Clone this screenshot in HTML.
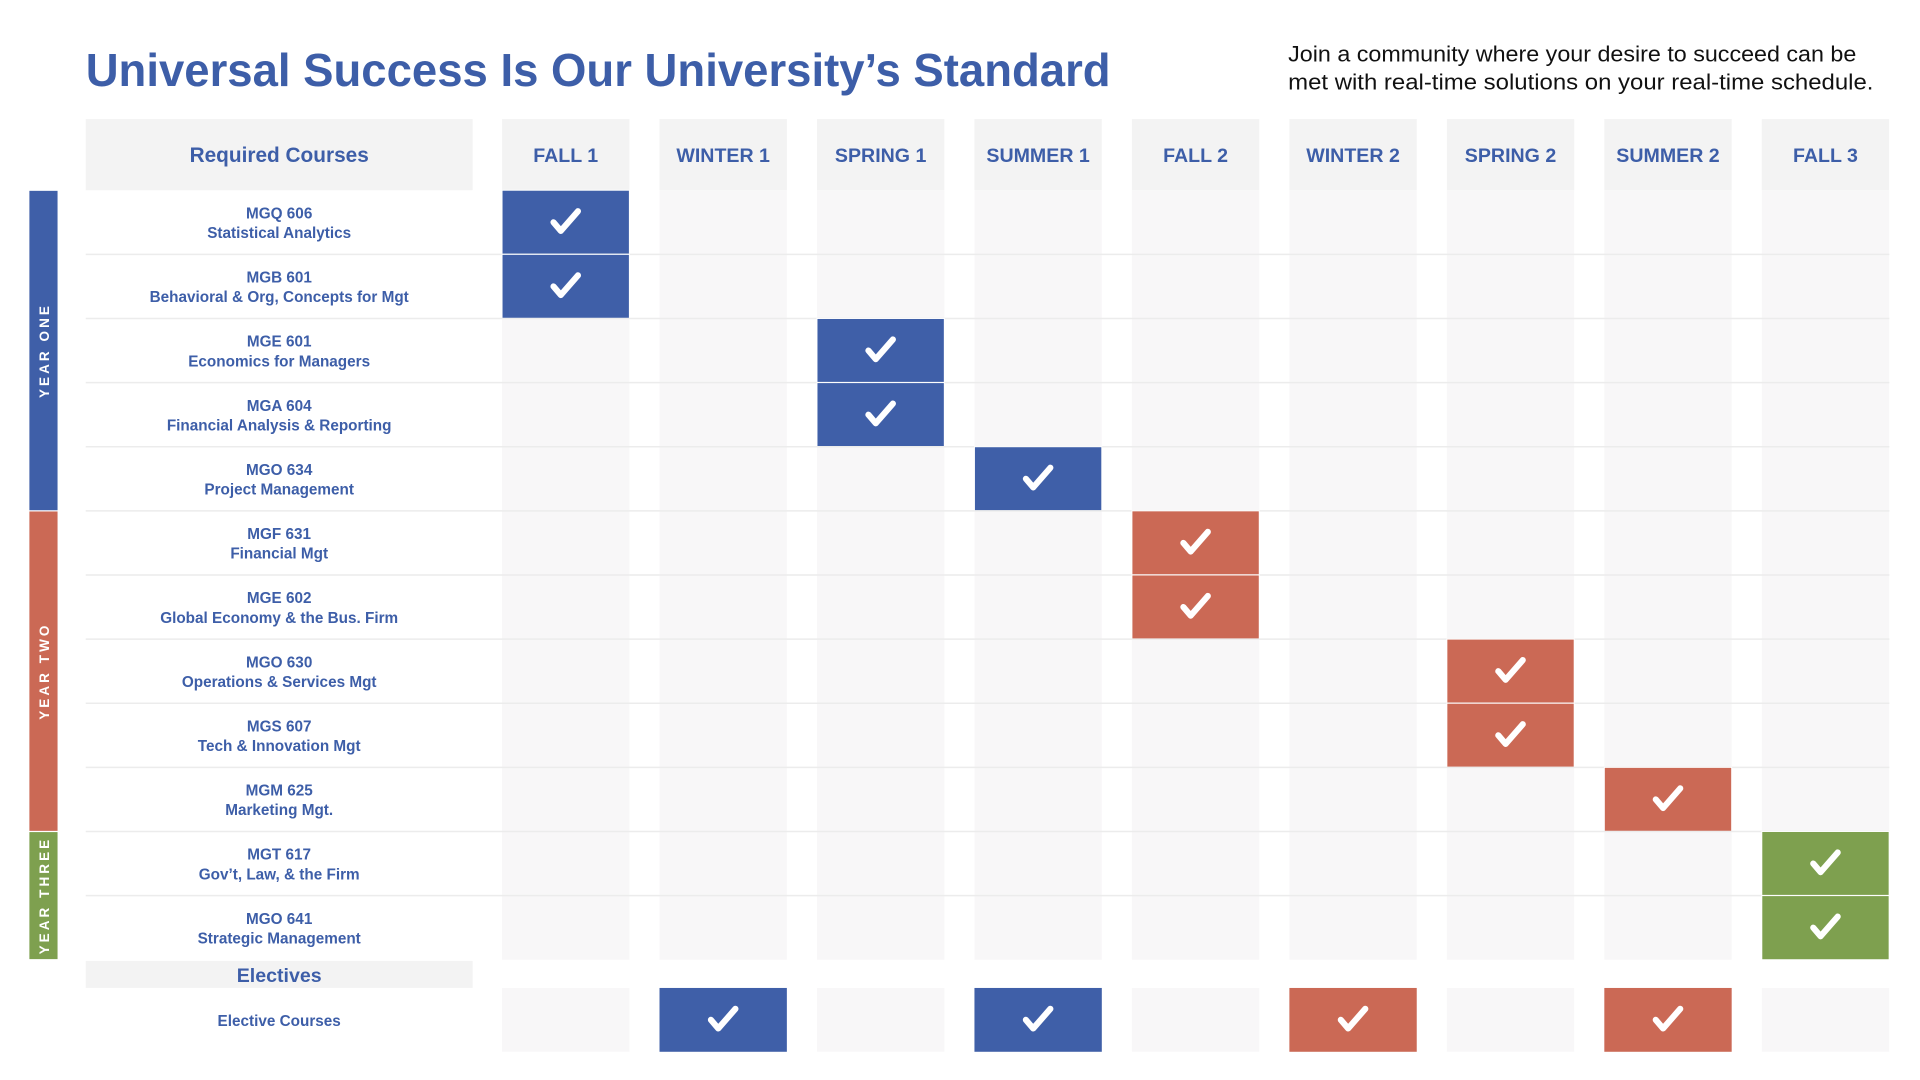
<!DOCTYPE html>
<html><head><meta charset="utf-8"><style>
html,body{margin:0;padding:0;background:#fff;width:1920px;height:1080px;overflow:hidden}
svg{display:block}
text{font-family:"Liberation Sans",sans-serif}
</style></head><body>
<svg id="chart" width="1920" height="1080" viewBox="0 0 1568 880" preserveAspectRatio="none" xmlns="http://www.w3.org/2000/svg">
<text x="70" y="70" font-size="38" font-weight="bold" fill="#3d5ea8" textLength="837" lengthAdjust="spacingAndGlyphs">Universal Success Is Our University’s Standard</text>
<text x="1052" y="50" font-size="18" fill="#111" textLength="464" lengthAdjust="spacingAndGlyphs">Join a community where your desire to succeed can be</text>
<text x="1052" y="73" font-size="18" fill="#111" textLength="478" lengthAdjust="spacingAndGlyphs">met with real-time solutions on your real-time schedule.</text>
<rect x="70" y="97" width="316" height="58" fill="#f3f3f3"/>
<text x="228" y="132" font-size="17" font-weight="bold" fill="#3d5ea8" text-anchor="middle">Required Courses</text>
<g id="grid"></g>
</svg>
<script>
const terms = ["FALL 1","WINTER 1","SPRING 1","SUMMER 1","FALL 2","WINTER 2","SPRING 2","SUMMER 2","FALL 3"];
const courseCodes = ["MGQ 606","MGB 601","MGE 601","MGA 604","MGO 634","MGF 631","MGE 602","MGO 630","MGS 607","MGM 625","MGT 617","MGO 641"];
const courseNames = ["Statistical Analytics","Behavioral & Org, Concepts for Mgt","Economics for Managers","Financial Analysis & Reporting","Project Management","Financial Mgt","Global Economy & the Bus. Firm","Operations & Services Mgt","Tech & Innovation Mgt","Marketing Mgt.","Gov’t, Law, & the Firm","Strategic Management"];
const courseTerm = [0,0,2,2,3,4,4,6,6,7,8,8];
const courseYear = [0,0,0,0,0,1,1,1,1,1,2,2];
const yearLabels = ["YEAR ONE","YEAR TWO","YEAR THREE"];
const electiveTerms = [1,3,5,7];
const electiveYear = [0,0,1,1];
const colors = ["#3f5fa8","#cb6955","#7ea04f"];

const NS="http://www.w3.org/2000/svg";
const g=document.getElementById('grid');
const colX=i=>410+i*128.6, colW=104;
const rowY=i=>155+i*52.25, rowH=52.25;
function el(tag,attrs,parent){const e=document.createElementNS(NS,tag);for(const k in attrs)e.setAttribute(k,attrs[k]);(parent||g).appendChild(e);return e;}
function check(cx,cy){const p=el('path',{d:`M${cx-10} ${cy} L${cx-4} ${cy+7} L${cx+10} ${cy-9}`,stroke:'#fff','stroke-width':5,fill:'none','stroke-linecap':'round','stroke-linejoin':'round'});

}
terms.forEach((t,i)=>{
 const h=el('rect',{x:colX(i),y:97,width:colW,height:58,fill:'#f3f3f3'});
 
 
 const b=el('rect',{x:colX(i),y:155,width:colW,height:rowH*courseCodes.length,fill:'#f8f7f8'});
 
 
 const tx=el('text',{x:colX(i)+colW/2,y:132,'font-size':16,'font-weight':'bold',fill:'#3d5ea8','text-anchor':'middle'});
 tx.textContent=t;
 
 
 const e=el('rect',{x:colX(i),y:805,width:colW,height:52,fill:'#f8f7f8'});
 
 
});
courseCodes.forEach((c,r)=>{
 if(r>0){const ln=el('line',{x1:70,x2:1543,y1:rowY(r),y2:rowY(r),stroke:'#ececec','stroke-width':1.2});
 
 }
 const t1=el('text',{x:228,y:rowY(r)+23,'font-size':12.5,'font-weight':'bold',fill:'#3d5ea8','text-anchor':'middle'});
 t1.textContent=c;
 
 
 const t2=el('text',{x:228,y:rowY(r)+39,'font-size':12.5,'font-weight':'bold',fill:'#3d5ea8','text-anchor':'middle'});
 t2.textContent=courseNames[r];
 
 
 const cell=el('rect',{x:colX(courseTerm[r]),y:rowY(r),width:colW,height:rowH,fill:colors[courseYear[r]],stroke:'#fff','stroke-width':0.8});
 
 
 check(colX(courseTerm[r])+colW/2,rowY(r)+rowH/2);
});
yearLabels.forEach((y,k)=>{
 const idx=courseYear.map((v,i)=>v===k?i:-1).filter(i=>i>=0);
 const y0=rowY(idx[0]), y1=rowY(idx[idx.length-1]+1);
 const bar=el('rect',{x:24,y:y0+0.5,width:23,height:y1-y0-1,fill:colors[k]});
 
 
 const cy=(y0+y1)/2;
 const t=el('text',{x:0,y:0,transform:`translate(40 ${cy}) rotate(-90)`,'font-size':11,'font-weight':'bold',fill:'#fff','text-anchor':'middle','letter-spacing':2.5});
 t.textContent=y;
 
 
});
const eh=el('rect',{x:70,y:783,width:316,height:22,fill:'#f3f3f3'});


const et=el('text',{x:228,y:800,'font-size':16,'font-weight':'bold',fill:'#3d5ea8','text-anchor':'middle'});
et.textContent='Electives';


const ec=el('text',{x:228,y:836,'font-size':12.5,'font-weight':'bold',fill:'#3d5ea8','text-anchor':'middle'});
ec.textContent='Elective Courses';


electiveTerms.forEach((t,i)=>{
 const r=el('rect',{x:colX(t),y:805,width:colW,height:52,fill:colors[electiveYear[i]]});
 
 
 check(colX(t)+colW/2,831);
});
</script>
</body></html>
